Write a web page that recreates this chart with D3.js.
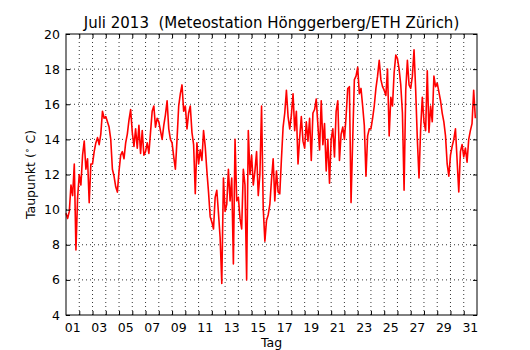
<!DOCTYPE html>
<html>
<head>
<meta charset="utf-8">
<script src="https://cdn.jsdelivr.net/npm/d3@7"></script>
<style>
  body { margin: 0; background: #fff; }
  svg { font-family: "DejaVu Sans", sans-serif; }
</style>
</head>
<body>
<script>
// dew point, Hönggerberg, July 2013, one reading every 3 hours starting 1 July 00:00
const stepHours = 3;
const dewpoint = [
  9.8, 9.5, 9.9, 11.4, 10.8, 12.6, 7.7, 10.7,       // 01
  12.0, 11.4, 13.1, 13.9, 12.3, 12.9, 10.4, 12.6,   // 02
  12.6, 13.3, 13.8, 14.1, 13.7, 14.3, 15.6, 15.2,   // 03
  15.3, 15.0, 14.7, 14.0, 12.3, 11.9, 11.3, 11.0,   // 04
  12.2, 13.1, 13.3, 12.9, 13.8, 14.3, 15.1, 15.7,   // 05
  14.4, 13.6, 14.6, 13.5, 14.8, 13.2, 14.5, 13.1,   // 06
  13.3, 13.8, 13.2, 14.4, 15.6, 15.9, 14.7, 15.2,   // 07
  15.0, 14.5, 14.0, 14.8, 15.4, 16.2, 14.6, 14.0,   // 08
  13.8, 13.0, 12.3, 14.0, 15.9, 16.6, 17.1, 15.6,   // 09
  15.9, 14.6, 15.5, 15.9, 14.4, 13.7, 10.9, 13.8,   // 10
  12.6, 13.4, 12.8, 14.5, 13.6, 12.2, 11.0, 9.6,    // 11
  9.3, 8.9, 10.7, 11.1, 9.8, 8.4, 5.8, 11.8,        // 12
  9.9, 10.3, 12.3, 10.5, 11.8, 6.9, 14.0, 10.5,     // 13
  10.7, 9.5, 8.9, 12.3, 11.4, 6.0, 14.5, 12.0,      // 14
  13.1, 11.4, 12.2, 13.3, 10.8, 12.0, 15.9, 10.1,   // 15
  8.2, 9.4, 9.7, 10.3, 11.7, 12.9, 10.5, 12.2,      // 16
  11.0, 10.9, 12.9, 14.7, 15.5, 16.8, 15.3, 14.6,   // 17
  15.4, 16.6, 14.5, 15.6, 12.6, 14.1, 15.3, 13.9,   // 18
  13.5, 15.0, 13.9, 15.2, 12.8, 15.5, 15.7, 16.3,   // 19
  14.8, 13.4, 16.2, 13.7, 14.9, 12.2, 14.0, 11.5,   // 20
  14.0, 14.6, 13.0, 15.6, 16.2, 12.8, 14.3, 14.7,   // 21
  14.0, 15.3, 16.9, 17.0, 10.4, 14.0, 17.4, 17.6,   // 22
  18.1, 16.6, 16.9, 15.9, 14.8, 11.9, 14.2, 14.6,   // 23
  14.6, 15.2, 15.9, 16.9, 17.6, 18.5, 17.4, 17.0,   // 24
  16.8, 16.5, 18.0, 14.2, 16.4, 15.9, 17.8, 18.8,   // 25
  18.6, 18.0, 17.1, 15.5, 11.1, 16.8, 18.5, 17.1,   // 26
  16.9, 17.6, 19.1, 16.8, 14.0, 11.8, 14.6, 16.4,   // 27
  15.0, 14.5, 17.9, 14.4, 15.9, 15.0, 17.6, 17.0,   // 28
  17.2, 16.7, 16.2, 15.5, 15.0, 14.2, 12.6, 11.9,   // 29
  13.1, 13.6, 14.0, 14.6, 12.8, 11.0, 13.3, 13.7,   // 30
  13.0, 13.5, 12.7, 14.0, 14.5, 14.9, 16.8, 15.2    // 31
];
const dayLabels = ['01','03','05','07','09','11','13','15','17','19','21','23','25','27','29','31'];
const yTicks = [4, 6, 8, 10, 12, 14, 16, 18, 20];

const width = 530, height = 350;
const margin = {top: 34, right: 53, bottom: 35, left: 66};
const innerW = width - margin.left - margin.right;
const innerH = height - margin.top - margin.bottom;

const start = new Date(2013, 6, 1);
const end = new Date(2013, 7, 1);

const svg = d3.select('body').append('svg')
  .attr('width', width)
  .attr('height', height);

const x = d3.scaleTime().domain([start, end]).range([0, innerW]);
const y = d3.scaleLinear().domain([4, 20]).range([innerH, 0]);

const g = svg.append('g')
  .attr('transform', `translate(${margin.left},${margin.top})`);

const dayBounds = d3.timeDay.range(d3.timeDay.offset(start, 1), end);

// grid
g.append('g').selectAll('line')
  .data(dayBounds)
  .enter().append('line')
  .attr('x1', d => x(d)).attr('x2', d => x(d))
  .attr('y1', 0).attr('y2', innerH)
  .attr('stroke', '#000').attr('stroke-width', 0.8)
  .attr('stroke-dasharray', '1,3');

g.append('g').selectAll('line')
  .data(yTicks.slice(1, -1))
  .enter().append('line')
  .attr('x1', 0).attr('x2', innerW)
  .attr('y1', d => y(d)).attr('y2', d => y(d))
  .attr('stroke', '#000').attr('stroke-width', 0.8)
  .attr('stroke-dasharray', '1,3');

// data line
const line = d3.line()
  .x((d, i) => x(d3.timeHour.offset(start, i * stepHours)))
  .y(d => y(d));

g.append('path')
  .datum(dewpoint)
  .attr('fill', 'none')
  .attr('stroke', '#ff0000')
  .attr('stroke-width', 1.6)
  .attr('stroke-linejoin', 'round')
  .attr('d', line);

// axes, ticks pointing inward
const xBottom = d3.axisBottom(x).tickValues(dayBounds).tickSize(-4).tickFormat('');
const xTop = d3.axisTop(x).tickValues(dayBounds).tickSize(-4).tickFormat('');
const yLeft = d3.axisLeft(y).tickValues(yTicks).tickSize(-4).tickPadding(6);
const yRight = d3.axisRight(y).tickValues(yTicks).tickSize(-4).tickFormat('');

g.append('g').attr('transform', `translate(0,${innerH})`).call(xBottom);
g.append('g').call(xTop);
g.append('g').attr('class', 'yl').call(yLeft);
g.append('g').attr('transform', `translate(${innerW},0)`).call(yRight);

g.selectAll('.domain').remove();
g.selectAll('.tick line').attr('stroke', '#000');
g.selectAll('.yl text')
  .attr('font-size', 12.5).attr('fill', '#000')
  .attr('font-family', '"DejaVu Sans", sans-serif');

// day labels at noon
g.append('g').selectAll('text')
  .data(dayLabels)
  .enter().append('text')
  .attr('x', d => x(d3.timeHour.offset(new Date(2013, 6, +d), 12)))
  .attr('y', innerH + 17)
  .attr('text-anchor', 'middle')
  .attr('font-size', 12.5)
  .text(d => d);

// frame
g.append('rect')
  .attr('width', innerW).attr('height', innerH)
  .attr('fill', 'none').attr('stroke', '#000').attr('stroke-width', 1);

// title and labels
svg.append('text')
  .attr('x', margin.left + innerW / 2).attr('y', 28)
  .attr('text-anchor', 'middle')
  .attr('font-size', 15)
  .text('Juli 2013  (Meteostation Hönggerberg/ETH Zürich)')
  .style('white-space', 'pre');

svg.append('text')
  .attr('x', margin.left + innerW / 2).attr('y', 347)
  .attr('text-anchor', 'middle')
  .attr('font-size', 12.5)
  .text('Tag');

const yl = svg.append('text')
  .attr('transform', `translate(35,${margin.top + innerH / 2}) rotate(-90)`)
  .attr('text-anchor', 'middle')
  .attr('font-size', 12.5);
yl.append('tspan').text('Taupunkt (');
yl.append('tspan').attr('font-size', 9).attr('dy', -5).text('∘');
yl.append('tspan').attr('dy', 5).text(' C)');
</script>
</body>
</html>
